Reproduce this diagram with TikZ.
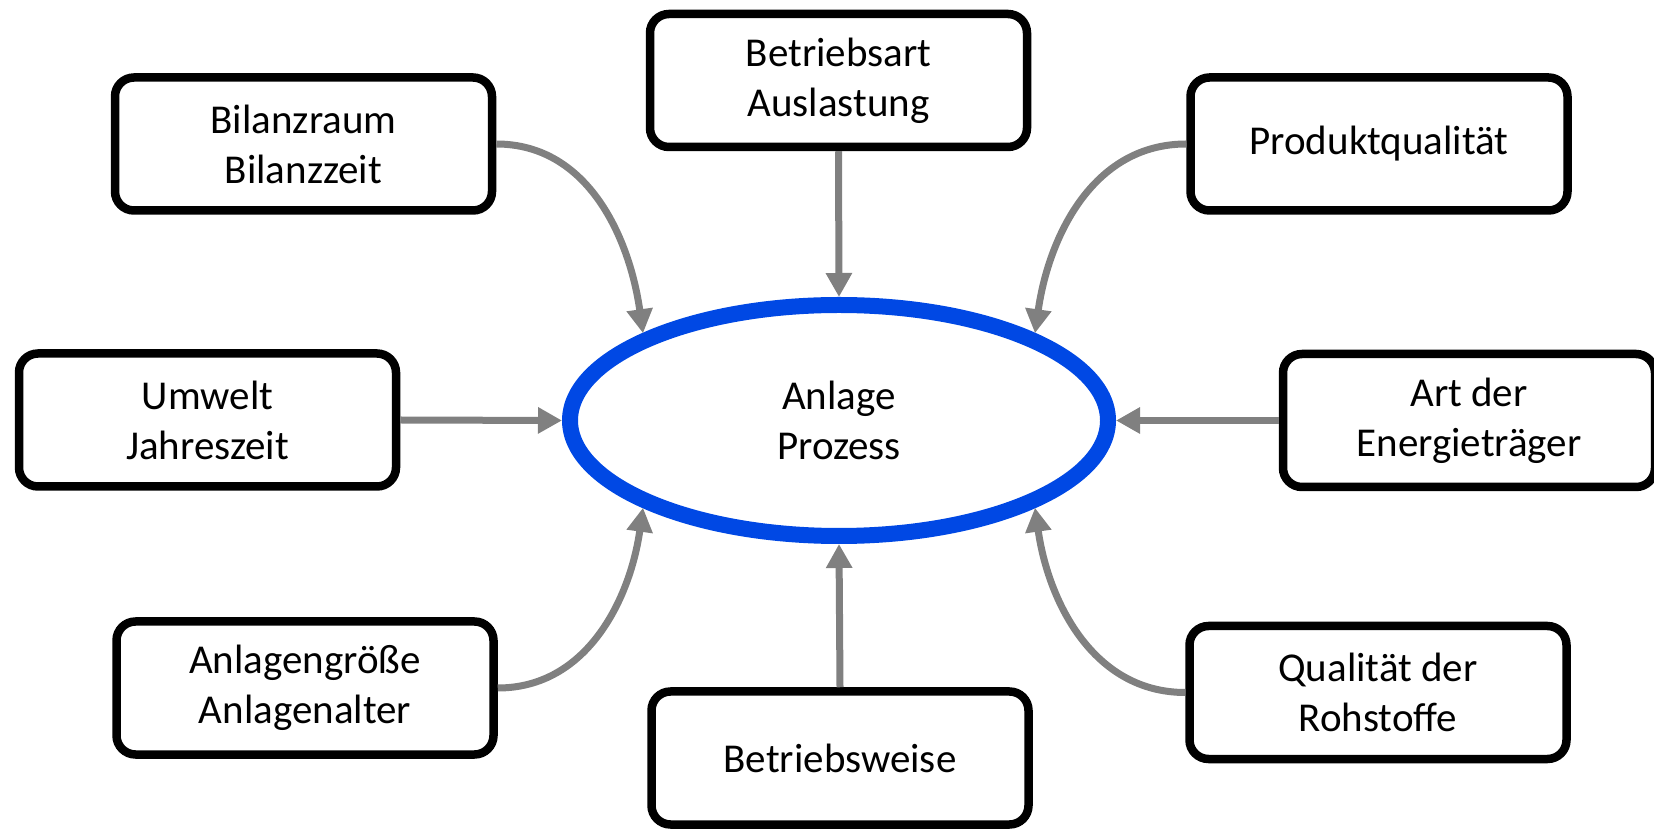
\documentclass[tikz,border=0pt]{standalone}
\usepackage{fontspec}
\setmainfont{Carlito}
\usetikzlibrary{arrows.meta,shapes.geometric}
\definecolor{ellblue}{RGB}{0,72,228}
\definecolor{arrgray}{RGB}{128,128,128}
\tikzset{
  box/.style={draw=black, line width=8.5pt, rounded corners=19pt, fill=white,
    minimum width=377pt, minimum height=133pt, align=center, inner sep=0pt,
    font=\fontsize{41}{50}\selectfont},
  core/.style={ellipse, draw=ellblue, line width=16pt, fill=white,
    minimum width=538pt, minimum height=231pt, inner sep=0pt, align=center,
    font=\fontsize{41}{50}\selectfont},
  conn/.style={draw=arrgray, line width=7pt, -{Triangle[width=25pt,length=24pt]}}
}
\begin{document}
\begin{tikzpicture}[x=1pt,y=1pt]
\useasboundingbox (0,0) rectangle (1654,830);
\node[core] (ell) at (839,409.5) {Anlage\\Prozess};
\node[box] (b1) at (303.5,686) {Bilanzraum\\Bilanzzeit};
\node[box] (b2) at (838.5,749.5) {Betriebsart\\Auslastung};
\node[box] (b3) at (1379,686) {Produktqualität};
\node[box] (b4) at (207.5,410) {Umwelt\\Jahreszeit};
\node[box, minimum width=372pt] (b5) at (1469,409.5) {Art der\\Energieträger};
\node[box] (b6) at (305,142) {Anlagengröße\\Anlagenalter};
\node[box] (b7) at (840,72) {Betriebsweise};
\node[box] (b8) at (1378,137.5) {Qualität der\\Rohstoffe};
\draw[conn] (b2.south) -- (ell.north);
\draw[conn] (b7.north) -- (ell.south);
\draw[conn] (b4.east) -- (ell.west);
\draw[conn] (b5.west) -- (ell.east);
\draw[conn] (b1.east) to[out=0,in=98] (ell.156);
\draw[conn] (b3.west) to[out=180,in=82] (ell.24);
\draw[conn] (b6.east) to[out=0,in=262] (ell.204);
\draw[conn] (b8.west) to[out=180,in=278] (ell.336);
\end{tikzpicture}
\end{document}
